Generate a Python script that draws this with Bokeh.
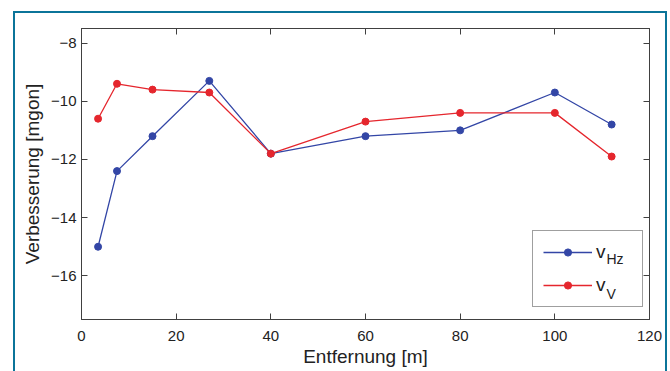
from bokeh.plotting import figure
from bokeh.models import (Range1d, LinearAxis, FixedTicker, Legend, LegendItem,
                          CustomJSTickFormatter, InlineStyleSheet)
from bokeh.core.properties import value
from bokeh.embed import file_html
from bokeh.resources import INLINE

# ---- data ----
distance_m = [3.5, 7.5, 15, 27, 40, 60, 80, 100, 112]
v_hz = [-15.0, -12.4, -11.2, -9.3, -11.8, -11.2, -11.0, -9.7, -10.8]
v_v = [-10.6, -9.4, -9.6, -9.7, -11.8, -10.7, -10.4, -10.4, -11.9]
x_ticks = [0, 20, 40, 60, 80, 100, 120]
y_ticks = [-16, -14, -12, -10, -8]
y_tick_labels = ["\u221216", "\u221214", "\u221212", "\u221210", "\u22128"]
series_names = ["v", "v"]
series_subs = ["Hz", "V"]

FONT = "Liberation Sans"
TXT = "#222222"
AX = "#404040"
BLUE = "#3346a6"
RED = "#e5262d"
TEAL = "#0b7499"

p = figure(width=670, height=371, output_backend="svg", toolbar_location=None,
           x_range=Range1d(0, 120), y_range=Range1d(-17.5, -7.5),
           min_border_left=81, min_border_right=21, min_border_top=28, min_border_bottom=52,
           background_fill_color="white", border_fill_color="white")
p.outline_line_color = AX
p.grid.visible = False

# outer teal frame of the figure box (open at the bottom), drawn with CSS
p.stylesheets = [InlineStyleSheet(css=(
    ":host::after { content: ''; position: absolute; left: 12.75px; top: 11.45px; "
    "width: 654px; height: 359.55px; box-sizing: border-box; "
    "border: 2.5px solid " + TEAL + "; border-bottom: none; pointer-events: none; }"
))]

def style_axis(ax):
    ax.axis_line_color = AX
    ax.major_tick_line_color = AX
    ax.major_tick_in = 6
    ax.major_tick_out = 0
    ax.minor_tick_line_color = None
    ax.major_label_text_font = FONT
    ax.major_label_text_font_size = "15px"
    ax.major_label_text_color = TXT
    ax.axis_label_text_font = FONT
    ax.axis_label_text_font_size = "19px"
    ax.axis_label_text_font_style = "normal"
    ax.axis_label_text_color = TXT

xa = p.xaxis[0]
ya = p.yaxis[0]
xa.ticker = FixedTicker(ticks=x_ticks)
ya.ticker = FixedTicker(ticks=y_ticks)
ya.major_label_overrides = {t: l for t, l in zip(y_ticks, y_tick_labels)}
style_axis(xa)
style_axis(ya)
xa.axis_label = "Entfernung [m]"
ya.axis_label = "Verbesserung [mgon]"
xa.major_label_standoff = 11
xa.axis_label_standoff = 2
ya.major_label_standoff = 5
ya.axis_label_standoff = 5

empty = CustomJSTickFormatter(code="return ''")
top = LinearAxis(ticker=FixedTicker(ticks=x_ticks), formatter=empty)
right = LinearAxis(ticker=FixedTicker(ticks=y_ticks), formatter=empty)
for a in (top, right):
    style_axis(a)
    a.major_label_text_font_size = "1px"
p.add_layout(top, "above")
p.add_layout(right, "right")

l1 = p.line(distance_m, v_hz, line_color=BLUE, line_width=1.3)
s1 = p.scatter(distance_m, v_hz, size=7, fill_color=BLUE, line_color=BLUE)
l2 = p.line(distance_m, v_v, line_color=RED, line_width=1.3)
s2 = p.scatter(distance_m, v_v, size=7, fill_color=RED, line_color=RED)

# pixel -> data helpers for placing the legend subscripts
px_x = 120 / 568.0
px_y = 10 / 291.0
def dx(px):
    return (px - 81) * px_x
def dy(py):
    return -7.5 - (py - 28) * px_y

# subscripts of the legend labels (legend box is transparent so they show through)
p.text(x=[dx(606), dx(606)], y=[dy(258), dy(293)], text=series_subs,
       text_font=value(FONT), text_font_size="14px", text_color=TXT,
       text_baseline="middle", text_align="left")

legend = Legend(items=[LegendItem(label=series_names[0], renderers=[l1, s1]),
                       LegendItem(label=series_names[1], renderers=[l2, s2])],
                location=(451, 12), orientation="vertical",
                glyph_width=49, glyph_height=18, label_height=18, label_width=36,
                label_standoff=4, spacing=11, padding=10, margin=0,
                border_line_color=AX, border_line_width=1,
                background_fill_color=None,
                label_text_font=FONT, label_text_font_size="19px", label_text_color=TXT)
p.add_layout(legend)

open("out.html", "w").write(file_html(p, INLINE))
